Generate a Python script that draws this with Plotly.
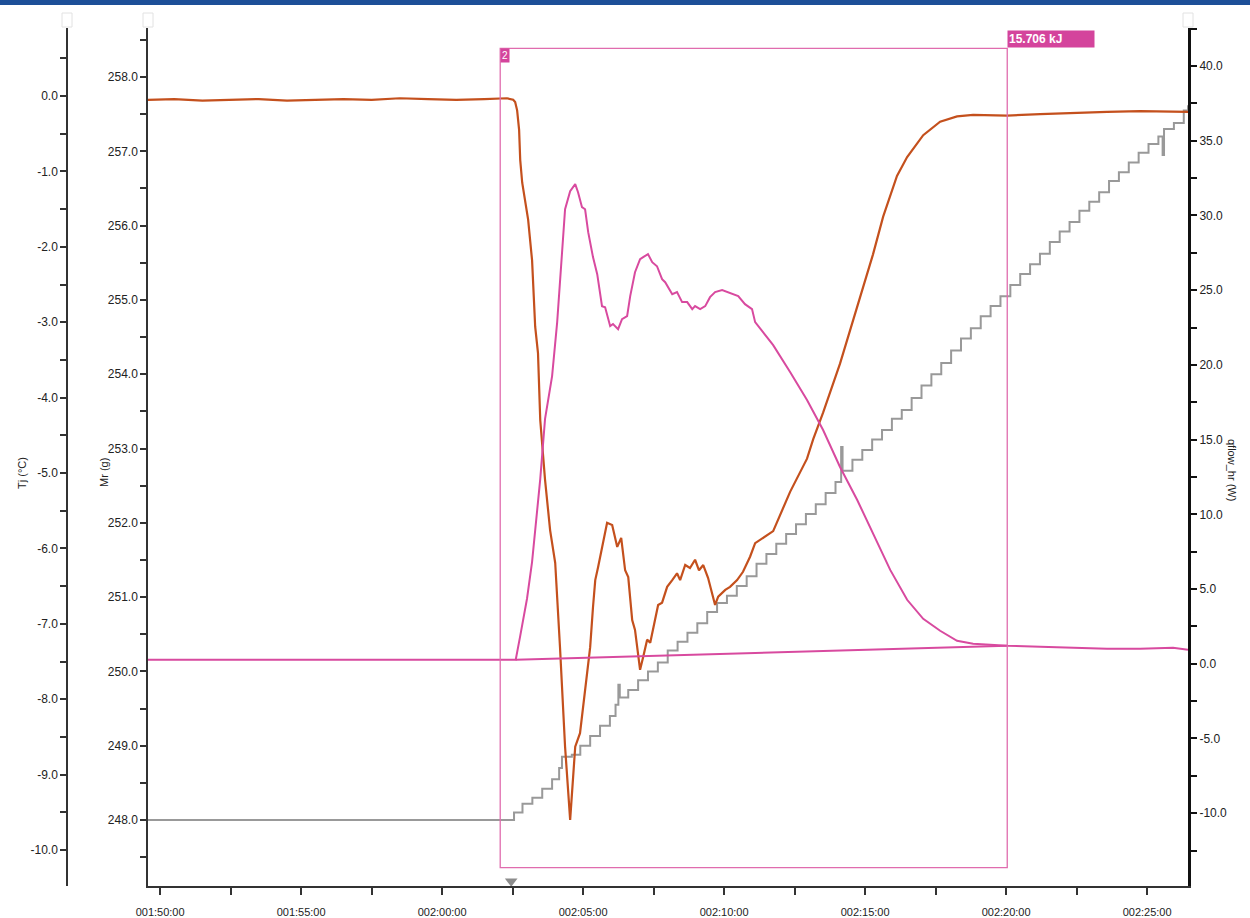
import plotly.graph_objects as go

# ---------------- data (time in minutes; 110 = 001:50:00) ----------------
x_tickvals = [110, 115, 120, 125, 130, 135, 140, 145]
x_ticktext = ["001:50:00", "001:55:00", "002:00:00", "002:05:00",
              "002:10:00", "002:15:00", "002:20:00", "002:25:00"]

tj_tickvals = [0, -1, -2, -3, -4, -5, -6, -7, -8, -9, -10]
tj_ticktext = ["0.0", "-1.0", "-2.0", "-3.0", "-4.0", "-5.0", "-6.0", "-7.0",
               "-8.0", "-9.0", "-10.0"]
q_tickvals = [40, 35, 30, 25, 20, 15, 10, 5, 0, -5, -10, -15]
q_ticktext = ["40.0", "35.0", "30.0", "25.0", "20.0", "15.0", "10.0", "5.0",
              "0.0", "-5.0", "-10.0", "-15.0"]

# Tj (°C) - jacket temperature
tj_time = [109.57, 110.5, 111.5, 112.5, 113.5, 114.5, 115.5, 116.5, 117.5, 118.5,
           119.5, 120.5, 121.5, 122.3, 122.52, 122.59, 122.66, 122.73, 122.77, 122.84,
           123.05, 123.19, 123.30, 123.40, 123.48, 123.65, 123.83, 124.01, 124.18, 124.36,
           124.54, 124.72, 124.89, 125.07, 125.25, 125.35, 125.43, 125.53, 125.71, 125.85,
           126.03, 126.21, 126.35, 126.49, 126.60, 126.74, 126.84, 127.02, 127.13, 127.27,
           127.38, 127.55, 127.66, 127.80, 127.98, 128.16, 128.33, 128.44, 128.62, 128.79,
           128.97, 129.11, 129.26, 129.43, 129.68, 129.79, 130.04, 130.21, 130.46, 130.67,
           130.92, 131.10, 131.74, 132.34, 132.94, 133.16, 133.51, 134.11, 134.72, 135.28,
           135.64, 136.13, 136.49, 137.06, 137.66, 138.26, 138.83, 140.04, 141.21, 142.38,
           143.58, 144.75, 145.92, 146.45]
tj_vals = [-0.05, -0.04, -0.06, -0.05, -0.04, -0.06, -0.05, -0.04, -0.05, -0.03,
           -0.04, -0.05, -0.04, -0.03, -0.05, -0.08, -0.19, -0.45, -0.85, -1.15,
           -1.64, -2.18, -3.06, -3.41, -4.30, -5.09, -5.76, -6.19, -7.31, -8.63,
           -9.60, -8.63, -8.45, -7.84, -7.31, -6.78, -6.42, -6.25, -5.89, -5.66,
           -5.69, -5.98, -5.86, -6.29, -6.38, -6.95, -7.08, -7.61, -7.44, -7.21,
           -7.25, -6.95, -6.75, -6.72, -6.51, -6.42, -6.33, -6.42, -6.22, -6.26,
           -6.15, -6.29, -6.22, -6.39, -6.75, -6.64, -6.55, -6.51, -6.42, -6.31,
           -6.11, -5.93, -5.77, -5.25, -4.81, -4.55, -4.20, -3.55, -2.80, -2.10,
           -1.60, -1.06, -0.81, -0.52, -0.34, -0.27, -0.25, -0.26, -0.24, -0.23,
           -0.21, -0.20, -0.21, -0.21]

# Mr (g) - reactor mass (dosing)
mr_time = [109.57, 122.45, 122.55, 122.85, 123.20, 123.55, 123.90, 124.15, 124.25, 124.60,
           124.90, 125.25, 125.60, 125.95, 126.15, 126.25, 126.30, 126.60, 126.95, 127.30,
           127.65, 128.00, 128.35, 128.70, 129.05, 129.40, 129.75, 130.10, 130.45, 130.80,
           131.15, 131.50, 131.85, 132.20, 132.55, 132.90, 133.25, 133.60, 133.95, 134.15,
           134.20, 134.55, 134.90, 135.25, 135.60, 135.95, 136.30, 136.65, 137.00, 137.35,
           137.70, 138.05, 138.40, 138.75, 139.10, 139.45, 139.80, 140.15, 140.50, 140.85,
           141.20, 141.55, 141.90, 142.25, 142.60, 142.95, 143.30, 143.65, 144.00, 144.35,
           144.70, 145.05, 145.40, 145.55, 145.60, 145.95, 146.30, 146.45]
mr_vals = [248.00, 248.00, 248.10, 248.22, 248.30, 248.42, 248.55, 248.70, 248.85, 248.88,
           249.00, 249.13, 249.27, 249.40, 249.55, 249.82, 249.65, 249.75, 249.88, 250.00,
           250.12, 250.28, 250.40, 250.52, 250.65, 250.80, 250.92, 251.02, 251.15, 251.28,
           251.45, 251.58, 251.72, 251.85, 251.98, 252.12, 252.25, 252.40, 252.55, 253.02,
           252.70, 252.85, 252.98, 253.12, 253.25, 253.40, 253.52, 253.68, 253.85, 254.00,
           254.15, 254.32, 254.48, 254.62, 254.78, 254.92, 255.05, 255.20, 255.35, 255.48,
           255.62, 255.78, 255.92, 256.05, 256.20, 256.32, 256.45, 256.60, 256.72, 256.85,
           256.98, 257.10, 257.20, 256.95, 257.30, 257.38, 257.55, 257.62]

# qflow_hr (W) - heat flow
q_time = [109.57, 122.61, 122.77, 123.01, 123.19, 123.37, 123.48, 123.65, 123.90, 124.08,
          124.26, 124.36, 124.54, 124.72, 124.82, 124.96, 125.07, 125.18, 125.35, 125.50,
          125.67, 125.78, 125.96, 126.06, 126.24, 126.38, 126.56, 126.67, 126.84, 127.02,
          127.13, 127.30, 127.45, 127.62, 127.80, 127.91, 128.16, 128.33, 128.51, 128.69,
          128.87, 128.97, 129.15, 129.33, 129.50, 129.68, 129.93, 130.14, 130.32, 130.50,
          130.74, 130.99, 131.10, 131.74, 132.34, 132.94, 133.51, 134.11, 134.72, 135.28,
          135.89, 136.49, 137.06, 137.66, 138.26, 138.83, 139.43, 140.04, 141.21, 142.38,
          143.58, 144.75, 145.92, 146.45]
q_vals = [0.27, 0.27, 1.87, 4.35, 6.82, 10.16, 12.37, 16.38, 19.25, 22.86,
          28.21, 30.41, 31.62, 32.09, 31.55, 30.55, 30.41, 28.88, 27.21, 26.07,
          23.93, 23.86, 22.59, 22.73, 22.39, 23.06, 23.26, 24.60, 26.20, 27.07,
          27.21, 27.41, 26.87, 26.60, 25.74, 25.53, 24.73, 24.87, 24.20, 24.20,
          23.73, 23.93, 23.73, 23.93, 24.53, 24.87, 25.00, 24.87, 24.73, 24.60,
          24.06, 23.73, 22.86, 21.32, 19.52, 17.65, 15.64, 13.17, 10.96, 8.76,
          6.28, 4.28, 3.01, 2.21, 1.54, 1.34, 1.27, 1.20, 1.14, 1.07,
          1.00, 1.00, 1.07, 0.94]

# integration baseline (W)
base_time = [122.61, 140.04]
base_vals = [0.27, 1.20]

# integration window and result
window_start, window_end = 122.06, 140.04
window_label = "2"
energy_label = "15.706 kJ"
marker_time = 122.45

# ---------------- styling ----------------
ORANGE = "#c4501d"
PINK = "#d84a9f"
BOXPINK = "#e06cae"
GREY = "#999999"
FONT = "Liberation Sans, Arial, sans-serif"
TXT = "#222222"

W, H = 1250, 918
ML, MR_, MT, MB = 60, 62, 28, 32
plot_w = W - ML - MR_
plot_h = H - MT - MB


def px(x):
    return (x - ML) / plot_w


def py(y):
    return (H - MB - y) / plot_h


fig = go.Figure()

fig.add_trace(go.Scatter(x=q_time, y=q_vals, mode="lines", yaxis="y3",
                         line=dict(color=PINK, width=2), name="qflow_hr"))
fig.add_trace(go.Scatter(x=base_time, y=base_vals, mode="lines", yaxis="y3",
                         line=dict(color=PINK, width=2), name="baseline"))
fig.add_trace(go.Scatter(x=mr_time, y=mr_vals, mode="lines", yaxis="y",
                         line=dict(color=GREY, width=2, shape="hv"), name="Mr"))
fig.add_trace(go.Scatter(x=tj_time, y=tj_vals, mode="lines", yaxis="y2",
                         line=dict(color=ORANGE, width=2.2), name="Tj"))
fig.add_trace(go.Scatter(x=[marker_time], y=[-14.55], mode="markers", yaxis="y3",
                         marker=dict(symbol="triangle-down", size=11, color="#8c8c8c"),
                         cliponaxis=False, name="marker"))

tickfont = dict(family=FONT, size=12, color=TXT)
AX = "#333333"

fig.update_layout(
    width=W, height=H,
    margin=dict(l=ML, r=MR_, t=MT, b=MB, autoexpand=False),
    paper_bgcolor="white", plot_bgcolor="white",
    showlegend=False,
    xaxis=dict(domain=[px(148), 1], range=[109.57, 146.45], automargin=False,
               tickmode="array", tickvals=x_tickvals, ticktext=x_ticktext,
               showgrid=False, zeroline=False, showline=True,
               linecolor=AX, linewidth=1.5,
               ticks="outside", ticklen=7, tickcolor=AX, tickwidth=1.5,
               ticklabelstandoff=8,
               minor=dict(tickmode="linear", dtick=2.5, tick0=110, ticks="outside",
                          ticklen=7, tickcolor=AX, tickwidth=1.5),
               tickfont=dict(family=FONT, size=11, color=TXT)),
    yaxis=dict(range=[247.112, 258.66], dtick=1, tick0=248, tickformat=".1f",
               automargin=False,
               showgrid=False, zeroline=False, showline=True,
               linecolor=AX, linewidth=1.5, side="left", anchor="x",
               ticks="outside", ticklen=6, tickcolor=AX, tickwidth=1.5,
               minor=dict(tickmode="linear", tick0=248, dtick=0.5, ticks="outside",
                          ticklen=6, tickcolor=AX, tickwidth=1.5),
               tickfont=tickfont),
    yaxis2=dict(range=[-10.477, 0.902], tickmode="array", automargin=False,
                tickvals=tj_tickvals, ticktext=tj_ticktext,
                overlaying="y", side="left", anchor="free", position=px(67),
                showgrid=False, zeroline=False, showline=True,
                linecolor=AX, linewidth=1.5,
                ticks="outside", ticklen=6, tickcolor=AX, tickwidth=1.5,
                minor=dict(tickmode="linear", tick0=0, dtick=0.5, ticks="outside",
                           ticklen=6, tickcolor=AX, tickwidth=1.5),
                tickfont=tickfont),
    yaxis3=dict(range=[-14.87, 42.54], tickmode="array", automargin=False,
                tickvals=q_tickvals, ticktext=q_ticktext,
                overlaying="y", side="right", anchor="x",
                showgrid=False, zeroline=False, showline=True,
                linecolor="#111111", linewidth=3,
                ticks="outside", ticklen=6, tickcolor="#111111", tickwidth=1.5,
                minor=dict(tickmode="linear", tick0=0, dtick=2.5, ticks="outside",
                           ticklen=6, tickcolor="#111111", tickwidth=1.5),
                tickfont=tickfont),
)

shapes = []
# integration window rectangle
shapes.append(dict(type="rect", xref="x", yref="y3",
                   x0=window_start, x1=window_end, y0=-13.64, y1=41.18,
                   line=dict(color=BOXPINK, width=1.3), fillcolor="rgba(0,0,0,0)"))
# blue top bar
shapes.append(dict(type="rect", xref="paper", yref="paper",
                   x0=px(0), x1=px(W), y0=py(5), y1=py(0),
                   line=dict(width=0), fillcolor="#1d4f98"))
# small axis icons
for cx in (67, 148, 1188):
    shapes.append(dict(type="rect", xref="paper", yref="paper",
                       x0=px(cx - 5), x1=px(cx + 5), y0=py(27), y1=py(13),
                       line=dict(color="#e2e2e2", width=1), fillcolor="rgba(0,0,0,0)"))
fig.update_layout(shapes=shapes)

annotations = [
    dict(text=window_label, x=window_start, y=41.18, xref="x", yref="y3",
         xanchor="left", yanchor="top", showarrow=False,
         bgcolor="#d4449c", borderpad=1,
         font=dict(family=FONT, size=10, color="white")),
    dict(text="<b>" + energy_label + "</b>", x=window_end, y=41.18, xref="x", yref="y3",
         xanchor="left", yanchor="bottom", showarrow=False,
         bgcolor="#d4449c", width=84, align="left", borderpad=1,
         font=dict(family=FONT, size=12, color="white")),
    dict(text="Tj (°C)", x=px(14), y=py(473), xref="paper", yref="paper",
         textangle=-90, showarrow=False, font=dict(family=FONT, size=11, color=TXT)),
    dict(text="Mr (g)", x=px(96), y=py(473), xref="paper", yref="paper",
         textangle=-90, showarrow=False, font=dict(family=FONT, size=11, color=TXT)),
    dict(text="qflow_hr (W)", x=px(1240), y=py(470), xref="paper", yref="paper",
         textangle=90, showarrow=False, font=dict(family=FONT, size=11, color=TXT)),
]
fig.update_layout(annotations=annotations)

fig.write_html("out.html", config={"displayModeBar": False},
               post_script="document.body.style.margin='0px';document.body.style.overflow='hidden';")
